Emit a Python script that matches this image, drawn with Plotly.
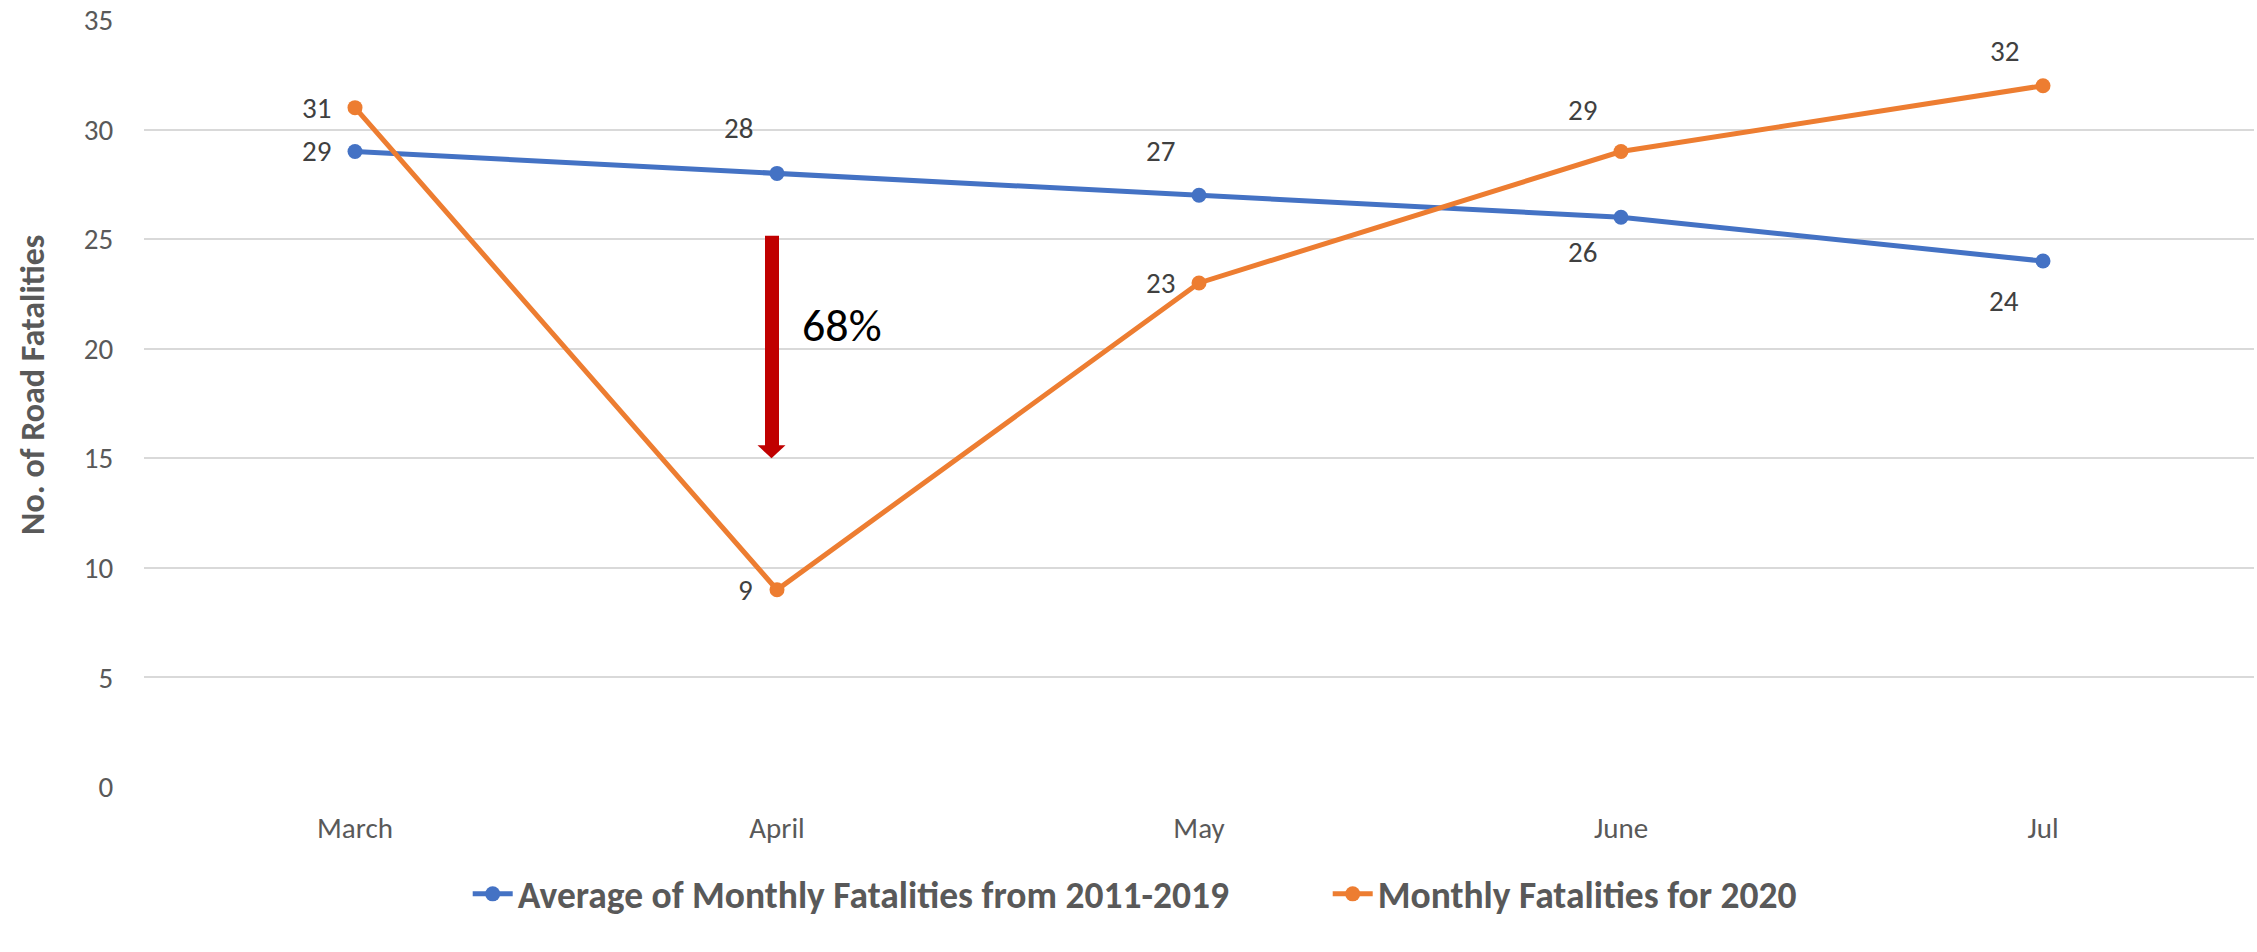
import plotly.graph_objects as go

# ---- data -------------------------------------------------------------
MONTHS = ["March", "April", "May", "June", "Jul"]
AVG_2011_2019 = [29, 28, 27, 26, 24]
FATALITIES_2020 = [31, 9, 23, 29, 32]
SERIES_NAMES = ["Average of Monthly Fatalities from 2011-2019",
                "Monthly Fatalities for 2020"]
Y_TICKS = [0, 5, 10, 15, 20, 25, 30, 35]
Y_TITLE = "No. of Road Fatalities"

# April drop callout (arrow spans from just under the average line to 15)
DROP_TEXT = "68%"
DROP_FROM = 25.15
DROP_TO = 15.0
DROP_TEXT_Y = 21.1

# vertical offset (px) of each point's value label; 0 = beside the point
AVG_LABEL_DY = [0, 45, 44, -35, -40]
Y2020_LABEL_DY = [0, 0, 0, 41, 35]

# ---- styling ----------------------------------------------------------
FONT = "Carlito, Lato, 'Open Sans', sans-serif"
BLUE = "#4472C4"
ORANGE = "#ED7D31"
GRID = "#D9D9D9"
TEXT_GREY = "#595959"
LABEL_GREY = "#404040"
ARROW_RED = "#C00000"

fig = go.Figure()
for name, values, color in [(SERIES_NAMES[0], AVG_2011_2019, BLUE),
                            (SERIES_NAMES[1], FATALITIES_2020, ORANGE)]:
    fig.add_trace(go.Scatter(
        x=MONTHS, y=values, name=name, mode="lines+markers",
        line=dict(color=color, width=5),
        marker=dict(color=color, size=15),
        hoverinfo="skip",
    ))

# data labels
annotations = []
for values, offsets in [(AVG_2011_2019, AVG_LABEL_DY),
                        (FATALITIES_2020, Y2020_LABEL_DY)]:
    for m, v, dy in zip(MONTHS, values, offsets):
        annotations.append(dict(
            x=m, y=v, xref="x", yref="y", text=str(v), showarrow=False,
            xanchor="right", yanchor="middle", xshift=-22, yshift=dy,
            font=dict(family=FONT, size=29, color=LABEL_GREY),
        ))

# drop percentage text
annotations.append(dict(
    x=MONTHS[1], y=DROP_TEXT_Y, xref="x", yref="y", text=DROP_TEXT,
    showarrow=False, xanchor="left", yanchor="middle", xshift=23,
    font=dict(family=FONT, size=46, color="#000000"),
))

# y-axis title
plot_top, plot_bottom = 20, 787
annotations.append(dict(
    x=0, y=(plot_bottom - 385) / (plot_bottom - plot_top),
    xref="paper", yref="paper", text=f"<b>{Y_TITLE}</b>", textangle=-90,
    showarrow=False, xanchor="center", yanchor="middle", xshift=-112,
    font=dict(family=FONT, size=34, color=TEXT_GREY),
))

april_idx = MONTHS.index("April")
shapes = [
    # arrow shaft
    dict(type="rect", xref="x", yref="y", xsizemode="pixel", xanchor=april_idx,
         x0=-12, x1=2, y0=DROP_FROM, y1=DROP_TO + 0.35,
         fillcolor=ARROW_RED, line=dict(width=0), layer="above"),
    # arrow head
    dict(type="path", xref="x", yref="y", xsizemode="pixel", ysizemode="pixel",
         xanchor=april_idx, yanchor=DROP_TO,
         path="M-19.5,13 L8.5,13 L-5.5,0 Z",
         fillcolor=ARROW_RED, line=dict(width=0), layer="above"),
]

fig.update_layout(
    width=2257, height=952,
    margin=dict(l=144, r=3, t=plot_top, b=952 - plot_bottom),
    paper_bgcolor="white", plot_bgcolor="white",
    font=dict(family=FONT, color=TEXT_GREY),
    annotations=annotations, shapes=shapes,
    showlegend=True,
    legend=dict(orientation="h", x=0.561, xanchor="center",
                y=-0.1395, yanchor="middle",
                font=dict(family=FONT, size=37.5, color=TEXT_GREY, weight="bold"),
                itemwidth=40, entrywidth=805, entrywidthmode="pixels",
                tracegroupgap=0),
    xaxis=dict(type="category", range=[-0.5, len(MONTHS) - 0.5],
               showgrid=False, zeroline=False, showline=False,
               ticks="outside", ticklen=15, tickcolor="rgba(0,0,0,0)",
               tickfont=dict(family=FONT, size=29, color=TEXT_GREY)),
    yaxis=dict(range=[0, 35], tickvals=Y_TICKS, showgrid=True,
               gridcolor=GRID, gridwidth=2, zeroline=False, showline=False,
               ticks="outside", ticklen=24, tickcolor="rgba(0,0,0,0)",
               tickfont=dict(family=FONT, size=29, color=TEXT_GREY)),
)

fig.write_html("out.html")
